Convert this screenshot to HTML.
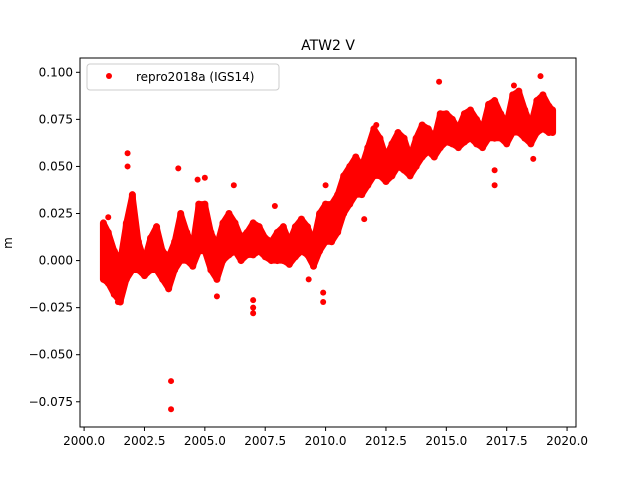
<!DOCTYPE html>
<html><head><meta charset="utf-8"><style>
body{margin:0;background:#fff;}
svg{display:block;font-family:"DejaVu Sans","Liberation Sans",sans-serif;}
</style></head><body>
<svg id="chart" width="640" height="480">
<rect width="640" height="480" fill="#fff"/>
<g id="marks"></g>
<g id="axes"></g>
<text x="328" y="50" font-size="14" text-anchor="middle">ATW2 V</text>
<text x="12" y="243" font-size="12" text-anchor="middle" transform="rotate(-90 12 243)">m</text>
<g>
<rect x="87" y="64" width="192" height="26" rx="3" fill="#fff" stroke="#ccc"/>
<circle cx="109" cy="76" r="3" fill="red"/>
<text x="136" y="81" font-size="12">repro2018a (IGS14)</text>
</g>
</svg>
<script>
const years=[2000.8,2001.0,2001.25,2001.5,2001.75,2002.0,2002.25,2002.5,2002.75,2003.0,2003.25,2003.5,2003.75,2004.0,2004.25,2004.5,2004.75,2005.0,2005.25,2005.5,2005.75,2006.0,2006.25,2006.5,2006.75,2007.0,2007.25,2007.5,2007.75,2008.0,2008.25,2008.5,2008.75,2009.0,2009.25,2009.5,2009.75,2010.0,2010.25,2010.5,2010.75,2011.0,2011.25,2011.5,2011.75,2012.0,2012.25,2012.5,2012.75,2013.0,2013.25,2013.5,2013.75,2014.0,2014.25,2014.5,2014.75,2015.0,2015.25,2015.5,2015.75,2016.0,2016.25,2016.5,2016.75,2017.0,2017.25,2017.5,2017.75,2018.0,2018.25,2018.5,2018.75,2019.0,2019.25,2019.4];
const lows=[-0.01,-0.012,-0.018,-0.022,-0.01,-0.005,-0.005,-0.008,-0.005,-0.005,-0.01,-0.015,-0.005,0.0,0.0,-0.003,0.005,0.005,-0.005,-0.01,0.0,0.003,0.005,0.0,0.003,0.003,0.005,0.002,0.0,0.0,0.0,-0.002,0.002,0.005,0.003,-0.003,0.005,0.01,0.01,0.015,0.025,0.03,0.035,0.035,0.04,0.045,0.045,0.042,0.045,0.05,0.048,0.045,0.05,0.055,0.058,0.055,0.06,0.063,0.062,0.06,0.063,0.065,0.062,0.06,0.065,0.065,0.065,0.062,0.068,0.068,0.065,0.062,0.068,0.07,0.068,0.068];
const highs=[0.02,0.015,0.005,0.0,0.02,0.035,0.01,0.0,0.012,0.018,0.005,0.002,0.01,0.025,0.015,0.008,0.03,0.03,0.015,0.008,0.02,0.025,0.02,0.012,0.015,0.02,0.018,0.012,0.01,0.015,0.018,0.01,0.018,0.022,0.018,0.01,0.025,0.03,0.03,0.035,0.045,0.05,0.055,0.05,0.06,0.07,0.065,0.055,0.062,0.068,0.065,0.055,0.065,0.072,0.07,0.065,0.078,0.078,0.075,0.07,0.078,0.08,0.075,0.07,0.083,0.085,0.078,0.073,0.088,0.09,0.08,0.072,0.085,0.088,0.082,0.08];
const outX=[2001.8,2001.8,2003.9,2003.6,2003.6,2005.0,2004.7,2005.5,2006.2,2007.0,2007.0,2007.0,2007.9,2009.3,2009.9,2009.9,2010.0,2011.6,2012.1,2014.7,2017.0,2017.0,2018.6,2018.9,2017.8,2001.0,2001.4];
const outY=[0.057,0.05,0.049,-0.064,-0.079,0.044,0.043,-0.019,0.04,-0.028,-0.025,-0.021,0.029,-0.01,-0.017,-0.022,0.04,0.022,0.072,0.095,0.04,0.048,0.054,0.098,0.093,0.023,-0.022];
const xTicks=[2000,2002.5,2005,2007.5,2010,2012.5,2015,2017.5,2020];
const xTickLabels=["2000.0","2002.5","2005.0","2007.5","2010.0","2012.5","2015.0","2017.5","2020.0"];
const yTicks=[-0.075,-0.05,-0.025,0,0.025,0.05,0.075,0.1];
const yTickLabels=["\u22120.075","\u22120.050","\u22120.025","0.000","0.025","0.050","0.075","0.100"];

const L=80,R=576,T=58,B=427;
const X0=1999.83,X1=2020.37,Y0=-0.0884,Y1=0.1076;
const sx=v=>L+(v-X0)/(X1-X0)*(R-L);
const sy=v=>B-(v-Y0)/(Y1-Y0)*(B-T);
const NS="http://www.w3.org/2000/svg";
const marks=document.getElementById('marks'),axes=document.getElementById('axes');
function mk(tag,attrs,parent){const e=document.createElementNS(NS,tag);for(const k in attrs)e.setAttribute(k,attrs[k]);parent.appendChild(e);return e;}
for(let i=0;i<years.length;i++){
  const l=mk('line',{x1:sx(years[i]),x2:sx(years[i]),y1:sy(lows[i]),y2:sy(highs[i]),stroke:'red','stroke-width':7,'stroke-linecap':'round'},marks);
  
  
  if(i<years.length-1){
    const p=mk('polygon',{points:`${sx(years[i])},${sy(lows[i])} ${sx(years[i+1])},${sy(lows[i+1])} ${sx(years[i+1])},${sy(highs[i+1])} ${sx(years[i])},${sy(highs[i])}`,fill:'red',stroke:'red','stroke-width':6,'stroke-linejoin':'round'},marks);
    
    
  }
}
for(let i=0;i<outX.length;i++){
  const c=mk('circle',{cx:sx(outX[i]),cy:sy(outY[i]),r:3,fill:'red'},marks);
  
  
}
const fr=mk('rect',{x:L,y:T,width:R-L,height:B-T,fill:'none',stroke:'#000','stroke-width':1},axes);


xTicks.forEach((v,i)=>{
  const x=sx(v);
  const t=mk('line',{x1:x,x2:x,y1:B,y2:B+4,stroke:'#000'},axes);
  
  
  const tx=mk('text',{x:x,y:B+18,'font-size':12,'text-anchor':'middle'},axes);
  tx.textContent=xTickLabels[i];
  
  
});
yTicks.forEach((v,i)=>{
  const y=sy(v);
  const t=mk('line',{x1:L-4,x2:L,y1:y,y2:y,stroke:'#000'},axes);
  
  
  const tx=mk('text',{x:L-7,y:y+4,'font-size':12,'text-anchor':'end'},axes);
  tx.textContent=yTickLabels[i];
  
  
});
</script>
</body></html>
